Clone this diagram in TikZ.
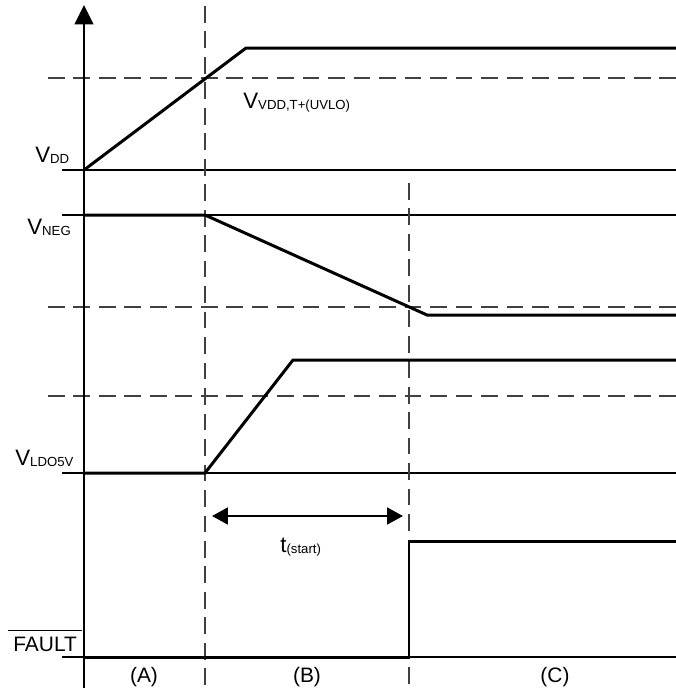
\documentclass[tikz,border=0pt]{standalone}
\usepackage{fontspec}
\setmainfont{Liberation Sans}
\usetikzlibrary{arrows.meta}
\newcommand{\smallsub}[1]{\raisebox{-0.9pt}{\fontsize{7.5}{8}\selectfont #1}}
\tikzset{
  wave/.style = {line width=1.7pt, line join=miter},
  base/.style = {line width=0.6pt},
  guide/.style = {line width=0.9pt, dash pattern=on 9.5pt off 5pt, black!75},
  lbl/.style = {font=\fontsize{11.9}{13}\selectfont, inner sep=0pt},
  vlbl/.style = {font=\fontsize{12.7}{14}\selectfont, inner sep=0pt, anchor=base west}
}
\begin{document}
\begin{tikzpicture}[x=0.02cm, y=-0.02cm]
         \useasboundingbox (0,0) rectangle (676,691);
          % levels
          \coordinate (vdd0) at (84,170);
          \coordinate (vneg0) at (84,215);
          \coordinate (ldo0) at (84,473);
          \coordinate (flt0) at (84,657);
          % base lines
          \draw[base] (62,170) -- (676,170);
          \draw[base] (62,215) -- (676,215);
          \draw[base] (62,473) -- (676,473);
          \draw[base] (62,657) -- (676,657);
          % dashed guides
          \draw[guide] (48,78) -- (676,78);
          \draw[guide] (48,307) -- (676,307);
          \draw[guide] (48,396) -- (676,396);
          \draw[guide] (205,6) -- (205,691);
          \draw[guide] (409,183) -- (409,691);
          % axis
          \draw[line width=1.7pt, -{Triangle[length=11pt,width=10.5pt]}] (84,688) -- (84,5);
          % waveforms
          \draw[wave] (vdd0) -- (246,48) -- (676,48);
          \draw[wave] (vneg0) -- (205,215) -- (427,315) -- (676,315);
          \draw[wave] (ldo0) -- (205,473) -- (293,360) -- (676,360);
          \draw[wave] (flt0) -- (409,657) -- (409,541) -- (676,541);
          % start time
          \coordinate (ts1) at (212,516);
          \coordinate (ts2) at (403,516);
          \draw[line width=1.3pt, {Triangle[length=9pt,width=9.5pt]}-{Triangle[length=9pt,width=9.5pt]}] (ts1) -- (ts2);
          \node[vlbl] (tst) at (280,552) {t\smallsub{(start)}};
          % labels
          \node[vlbl] (lvdd) at (35,162) {V\smallsub{DD}};
          \node[vlbl] (lneg) at (27,234) {V\smallsub{NEG}};
          \node[vlbl] (luv) at (243,108) {V\smallsub{VDD,T+(UVLO)}};
          \node[vlbl] (lldo) at (15,465) {V\smallsub{LDO5V}};
          \node[lbl, anchor=base west] (lflt) at (13,651) {FAULT};
          \draw[base] ([shift={(-5,-6)}]lflt.north west) -- ([shift={(5,-6)}]lflt.north east);
          \node[lbl] (ra) at (144,677) {(A)};
          \node[lbl] (rb) at (307,677) {(B)};
          \node[lbl] (rc) at (555,677) {(C)};
\end{tikzpicture}
\end{document}
